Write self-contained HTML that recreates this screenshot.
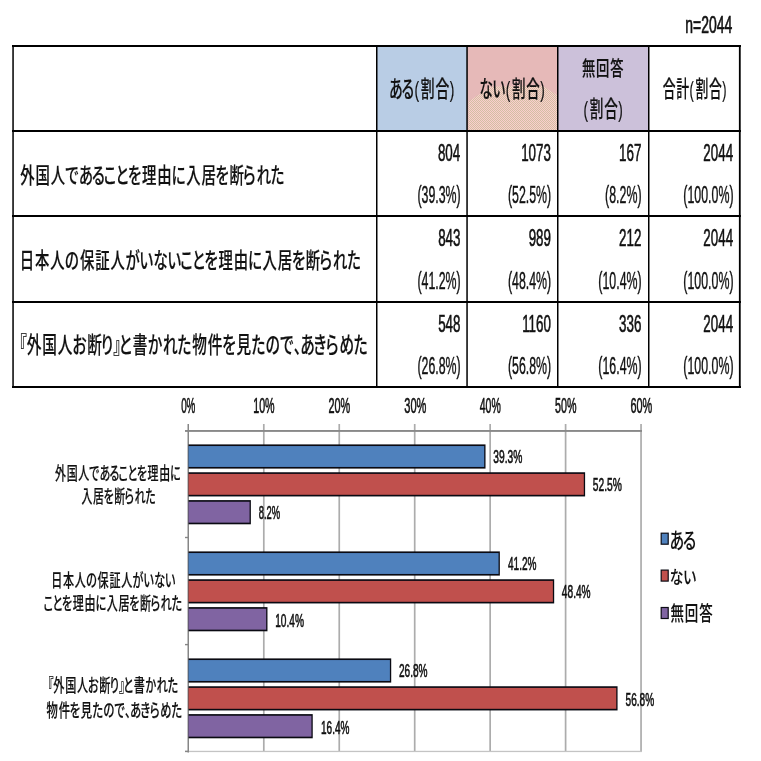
<!DOCTYPE html>
<html lang="ja"><head><meta charset="utf-8"><title>chart</title>
<style>html,body{margin:0;padding:0;background:#fff}svg{display:block}text{font-family:'Liberation Sans', 'Noto Sans CJK JP', sans-serif;}</style></head>
<body>
<svg width="761" height="761" viewBox="0 0 761 761">
<rect width="761" height="761" fill="#fff"/>
<rect x="377" y="47" width="90" height="84" fill="#B9CDE5"/>
<rect x="467" y="47" width="91" height="84" fill="#E6B9B8"/>
<rect x="558" y="47" width="91" height="84" fill="#CCC1DA"/>
<defs><pattern id="dz" x="0" y="0" width="2" height="2" patternUnits="userSpaceOnUse"><rect width="2" height="2" fill="#FACECD"/><rect x="0" y="0" width="1" height="1" fill="#D3BFA3"/><rect x="1" y="1" width="1" height="1" fill="#D3BFA3"/></pattern></defs>
<polygon points="468.5,101.5 491,86.5 543,86 557,95 557,130 468.5,130" fill="url(#dz)"/>
<rect x="12" y="45" width="729" height="2" fill="#000"/>
<rect x="12" y="130" width="729" height="2" fill="#000"/>
<rect x="12" y="215" width="729" height="2" fill="#000"/>
<rect x="12" y="301" width="729" height="2" fill="#000"/>
<rect x="12" y="386" width="729" height="2" fill="#000"/>
<rect x="12.3" y="45" width="1.5" height="343" fill="#000"/>
<rect x="738.9" y="45" width="1.8" height="343" fill="#000"/>
<rect x="376" y="45" width="1.5" height="343" fill="#000"/>
<rect x="466.3" y="45" width="1.5" height="343" fill="#000"/>
<rect x="557" y="45" width="1.5" height="343" fill="#000"/>
<rect x="648" y="45" width="1.5" height="343" fill="#000"/>
<rect x="262.95" y="424" width="1.7" height="328" fill="#acacac"/>
<rect x="338.40" y="424" width="1.7" height="328" fill="#acacac"/>
<rect x="413.85" y="424" width="1.7" height="328" fill="#acacac"/>
<rect x="489.30" y="424" width="1.7" height="328" fill="#acacac"/>
<rect x="564.75" y="424" width="1.7" height="328" fill="#acacac"/>
<rect x="640.20" y="424" width="1.7" height="328" fill="#acacac"/>
<rect x="185" y="750.8" width="457" height="1.3" fill="#c4c4c4"/>
<rect x="185" y="430" width="457" height="1.9" fill="#898989"/>
<rect x="187.5" y="424" width="1.5" height="328.5" fill="#868686"/>
<rect x="185" y="536.8" width="3.5" height="1.4" fill="#868686"/>
<rect x="185" y="643.9" width="3.5" height="1.4" fill="#868686"/>
<rect x="185" y="750.6999999999999" width="3.5" height="1.4" fill="#868686"/>
<rect x="188.50" y="444.40" width="297.02" height="24.2" fill="#0a0a12"/>
<rect x="188.50" y="446.05" width="295.72" height="20.90" fill="#4F81BD"/>
<rect x="188.50" y="472.25" width="396.61" height="24.2" fill="#0a0a12"/>
<rect x="188.50" y="473.90" width="395.31" height="20.90" fill="#C0504D"/>
<rect x="188.50" y="500.10" width="62.37" height="24.2" fill="#0a0a12"/>
<rect x="188.50" y="501.75" width="61.07" height="20.90" fill="#8064A2"/>
<rect x="188.50" y="551.40" width="311.35" height="24.2" fill="#0a0a12"/>
<rect x="188.50" y="553.05" width="310.05" height="20.90" fill="#4F81BD"/>
<rect x="188.50" y="579.25" width="365.68" height="24.2" fill="#0a0a12"/>
<rect x="188.50" y="580.90" width="364.38" height="20.90" fill="#C0504D"/>
<rect x="188.50" y="607.10" width="78.97" height="24.2" fill="#0a0a12"/>
<rect x="188.50" y="608.75" width="77.67" height="20.90" fill="#8064A2"/>
<rect x="188.50" y="658.40" width="202.71" height="24.2" fill="#0a0a12"/>
<rect x="188.50" y="660.05" width="201.41" height="20.90" fill="#4F81BD"/>
<rect x="188.50" y="686.25" width="429.06" height="24.2" fill="#0a0a12"/>
<rect x="188.50" y="687.90" width="427.76" height="20.90" fill="#C0504D"/>
<rect x="188.50" y="714.10" width="124.24" height="24.2" fill="#0a0a12"/>
<rect x="188.50" y="715.75" width="122.94" height="20.90" fill="#8064A2"/>
<rect x="661.2" y="533.2" width="7" height="11" fill="#4F81BD" stroke="#0c0c14" stroke-width="1.2"/>
<rect x="661.2" y="570.1" width="7" height="11" fill="#C0504D" stroke="#0c0c14" stroke-width="1.2"/>
<rect x="661.2" y="607.5" width="7" height="11" fill="#8064A2" stroke="#0c0c14" stroke-width="1.2"/>
<text transform="translate(685.35 33.40) scale(0.5804 1)" font-size="24.00" font-weight="400" fill="#111" stroke="#111" stroke-width="0.6" vector-effect="non-scaling-stroke">n=2044</text>
<text transform="translate(0 97.21) scale(0.6200 1)" x="627.89 647.99 668.65 678.83 702.51 725.48" y="0" font-size="22.26" font-weight="500" fill="#111" stroke="#111" stroke-width="0.2" style="font-feature-settings:'palt'">ある(割合)</text>
<text transform="translate(0 97.21) scale(0.6077 1)" x="788.87 810.46 832.28 842.46 866.14 889.11" y="0" font-size="22.26" font-weight="500" fill="#111" stroke="#111" stroke-width="0.2" style="font-feature-settings:'palt'">ない(割合)</text>
<text transform="translate(0 76.18) scale(0.6454 1)" x="901.59 923.57 945.55" y="0" font-size="20.66" font-weight="500" fill="#111" stroke="#111" stroke-width="0.2" style="font-feature-settings:'palt'">無回答</text>
<text transform="translate(0 117.26) scale(0.6108 1)" x="955.26 965.44 989.12 1012.09" y="0" font-size="22.26" font-weight="500" fill="#111" stroke="#111" stroke-width="0.2" style="font-feature-settings:'palt'">(割合)</text>
<text transform="translate(0 97.27) scale(0.5757 1)" x="1151.00 1174.74 1197.77 1207.97 1231.71 1254.74" y="0" font-size="22.31" font-weight="500" fill="#111" stroke="#111" stroke-width="0.2" style="font-feature-settings:'palt'">合計(割合)</text>
<text transform="translate(0 183.20) scale(0.6724 1)" x="30.09 52.86 75.62 97.06 117.26 136.59 154.47 172.03 190.36 211.24 234.00 255.43 276.87 299.63 320.51 341.39 361.72 381.48 402.68" y="0" font-size="21.40" font-weight="500" fill="#111" stroke="#111" stroke-width="0.2" style="font-feature-settings:'palt'">外国人であることを理由に入居を断られた</text>
<text transform="translate(0 268.03) scale(0.6633 1)" x="29.64 52.70 75.76 98.14 120.52 143.58 166.64 189.13 210.49 231.52 252.54 271.78 289.56 308.13 329.28 352.34 374.05 395.75 418.81 439.96 461.11 481.70 501.72 523.19" y="0" font-size="21.68" font-weight="500" fill="#111" stroke="#111" stroke-width="0.2" style="font-feature-settings:'palt'">日本人の保証人がいないことを理由に入居を断られた</text>
<text transform="translate(0 353.29) scale(0.6501 1)" x="29.85 41.00 64.97 88.94 111.50 134.07 155.12 174.61 183.08 204.36 227.74 250.53 272.85 295.76 319.73 341.71 363.70 386.61 408.81 430.67 451.92 462.01 482.24 501.19 521.88 544.09" y="0" font-size="22.53" font-weight="500" fill="#111" stroke="#111" stroke-width="0.2" style="font-feature-settings:'palt'">『外国人お断り』と書かれた物件を見たので、あきらめた</text>
<text transform="translate(437.90 161.00) scale(0.5577 1)" font-size="24.00" font-weight="400" fill="#111" stroke="#111" stroke-width="0.5" vector-effect="non-scaling-stroke">804</text>
<text transform="translate(417.40 203.30) scale(0.5153 1)" font-size="24.00" font-weight="400" fill="#111" stroke="#111" stroke-width="0.35" vector-effect="non-scaling-stroke">(39.3%)</text>
<text transform="translate(521.15 161.00) scale(0.5577 1)" font-size="24.00" font-weight="400" fill="#111" stroke="#111" stroke-width="0.5" vector-effect="non-scaling-stroke">1073</text>
<text transform="translate(507.90 203.30) scale(0.5153 1)" font-size="24.00" font-weight="400" fill="#111" stroke="#111" stroke-width="0.35" vector-effect="non-scaling-stroke">(52.5%)</text>
<text transform="translate(619.10 161.00) scale(0.5577 1)" font-size="24.00" font-weight="400" fill="#111" stroke="#111" stroke-width="0.5" vector-effect="non-scaling-stroke">167</text>
<text transform="translate(605.10 203.30) scale(0.5153 1)" font-size="24.00" font-weight="400" fill="#111" stroke="#111" stroke-width="0.35" vector-effect="non-scaling-stroke">(8.2%)</text>
<text transform="translate(703.35 161.00) scale(0.5577 1)" font-size="24.00" font-weight="400" fill="#111" stroke="#111" stroke-width="0.5" vector-effect="non-scaling-stroke">2044</text>
<text transform="translate(683.35 203.30) scale(0.5153 1)" font-size="24.00" font-weight="400" fill="#111" stroke="#111" stroke-width="0.35" vector-effect="non-scaling-stroke">(100.0%)</text>
<text transform="translate(438.15 246.30) scale(0.5577 1)" font-size="24.00" font-weight="400" fill="#111" stroke="#111" stroke-width="0.5" vector-effect="non-scaling-stroke">843</text>
<text transform="translate(417.40 288.60) scale(0.5153 1)" font-size="24.00" font-weight="400" fill="#111" stroke="#111" stroke-width="0.35" vector-effect="non-scaling-stroke">(41.2%)</text>
<text transform="translate(528.65 246.30) scale(0.5577 1)" font-size="24.00" font-weight="400" fill="#111" stroke="#111" stroke-width="0.5" vector-effect="non-scaling-stroke">989</text>
<text transform="translate(507.90 288.60) scale(0.5153 1)" font-size="24.00" font-weight="400" fill="#111" stroke="#111" stroke-width="0.35" vector-effect="non-scaling-stroke">(48.4%)</text>
<text transform="translate(619.10 246.30) scale(0.5577 1)" font-size="24.00" font-weight="400" fill="#111" stroke="#111" stroke-width="0.5" vector-effect="non-scaling-stroke">212</text>
<text transform="translate(598.35 288.60) scale(0.5153 1)" font-size="24.00" font-weight="400" fill="#111" stroke="#111" stroke-width="0.35" vector-effect="non-scaling-stroke">(10.4%)</text>
<text transform="translate(703.35 246.30) scale(0.5577 1)" font-size="24.00" font-weight="400" fill="#111" stroke="#111" stroke-width="0.5" vector-effect="non-scaling-stroke">2044</text>
<text transform="translate(683.35 288.60) scale(0.5153 1)" font-size="24.00" font-weight="400" fill="#111" stroke="#111" stroke-width="0.35" vector-effect="non-scaling-stroke">(100.0%)</text>
<text transform="translate(438.15 331.60) scale(0.5577 1)" font-size="24.00" font-weight="400" fill="#111" stroke="#111" stroke-width="0.5" vector-effect="non-scaling-stroke">548</text>
<text transform="translate(417.40 373.90) scale(0.5153 1)" font-size="24.00" font-weight="400" fill="#111" stroke="#111" stroke-width="0.35" vector-effect="non-scaling-stroke">(26.8%)</text>
<text transform="translate(522.15 331.60) scale(0.5577 1)" font-size="24.00" font-weight="400" fill="#111" stroke="#111" stroke-width="0.5" vector-effect="non-scaling-stroke">1160</text>
<text transform="translate(507.90 373.90) scale(0.5153 1)" font-size="24.00" font-weight="400" fill="#111" stroke="#111" stroke-width="0.35" vector-effect="non-scaling-stroke">(56.8%)</text>
<text transform="translate(619.10 331.60) scale(0.5577 1)" font-size="24.00" font-weight="400" fill="#111" stroke="#111" stroke-width="0.5" vector-effect="non-scaling-stroke">336</text>
<text transform="translate(598.35 373.90) scale(0.5153 1)" font-size="24.00" font-weight="400" fill="#111" stroke="#111" stroke-width="0.35" vector-effect="non-scaling-stroke">(16.4%)</text>
<text transform="translate(703.35 331.60) scale(0.5577 1)" font-size="24.00" font-weight="400" fill="#111" stroke="#111" stroke-width="0.5" vector-effect="non-scaling-stroke">2044</text>
<text transform="translate(683.35 373.90) scale(0.5153 1)" font-size="24.00" font-weight="400" fill="#111" stroke="#111" stroke-width="0.35" vector-effect="non-scaling-stroke">(100.0%)</text>
<text transform="translate(181.15 413.30) scale(0.4638 1)" font-size="21.20" font-weight="400" fill="#111" stroke="#111" stroke-width="0.5" vector-effect="non-scaling-stroke">0%</text>
<text transform="translate(253.20 413.30) scale(0.5054 1)" font-size="21.20" font-weight="400" fill="#111" stroke="#111" stroke-width="0.5" vector-effect="non-scaling-stroke">10%</text>
<text transform="translate(328.42 413.30) scale(0.5128 1)" font-size="21.20" font-weight="400" fill="#111" stroke="#111" stroke-width="0.5" vector-effect="non-scaling-stroke">20%</text>
<text transform="translate(404.32 413.30) scale(0.5212 1)" font-size="21.20" font-weight="400" fill="#111" stroke="#111" stroke-width="0.5" vector-effect="non-scaling-stroke">30%</text>
<text transform="translate(479.78 413.30) scale(0.4959 1)" font-size="21.20" font-weight="400" fill="#111" stroke="#111" stroke-width="0.5" vector-effect="non-scaling-stroke">40%</text>
<text transform="translate(555.10 413.30) scale(0.5055 1)" font-size="21.20" font-weight="400" fill="#111" stroke="#111" stroke-width="0.5" vector-effect="non-scaling-stroke">50%</text>
<text transform="translate(630.40 413.30) scale(0.5128 1)" font-size="21.20" font-weight="400" fill="#111" stroke="#111" stroke-width="0.5" vector-effect="non-scaling-stroke">60%</text>
<text transform="translate(0 479.90) scale(0.6167 1)" x="89.19 108.06 126.94 144.71 161.46 177.48 192.31 206.86 222.06 239.37 258.24 276.01" y="0" font-size="17.74" font-weight="500" fill="#111" stroke="#111" stroke-width="0.2" style="font-feature-settings:'palt'">外国人であることを理由に</text>
<text transform="translate(0 503.11) scale(0.5931 1)" x="137.40 156.90 174.79 192.68 210.09 227.03 245.19" y="0" font-size="18.33" font-weight="500" fill="#111" stroke="#111" stroke-width="0.2" style="font-feature-settings:'palt'">入居を断られた</text>
<text transform="translate(0 586.55) scale(0.6245 1)" x="82.12 100.95 119.78 138.06 156.33 175.16 194.00 212.36 229.81 246.98 264.15" y="0" font-size="17.70" font-weight="500" fill="#111" stroke="#111" stroke-width="0.2" style="font-feature-settings:'palt'">日本人の保証人がいない</text>
<text transform="translate(0 609.64) scale(0.6114 1)" x="71.12 85.95 101.42 119.06 138.28 156.38 174.48 193.70 211.34 228.97 246.13 262.83 280.73" y="0" font-size="18.07" font-weight="500" fill="#111" stroke="#111" stroke-width="0.2" style="font-feature-settings:'palt'">ことを理由に入居を断られた</text>
<text transform="translate(0 692.43) scale(0.6164 1)" x="77.61 86.52 105.68 124.85 142.89 160.93 177.76 193.35 200.11 217.13 235.82 254.04 271.89" y="0" font-size="18.01" font-weight="500" fill="#111" stroke="#111" stroke-width="0.2" style="font-feature-settings:'palt'">『外国人お断り』と書かれた</text>
<text transform="translate(0 716.69) scale(0.6266 1)" x="74.39 93.61 111.25 128.88 147.26 165.07 182.60 199.64 207.74 223.96 239.16 255.76 273.57" y="0" font-size="18.07" font-weight="500" fill="#111" stroke="#111" stroke-width="0.2" style="font-feature-settings:'palt'">物件を見たので、あきらめた</text>
<text transform="translate(0 547.78) scale(0.6929 1)" x="966.58 985.81" y="0" font-size="21.30" font-weight="500" fill="#111" stroke="#111" stroke-width="0.12" style="font-feature-settings:'palt'">ある</text>
<text transform="translate(0 584.46) scale(0.7341 1)" x="912.38 930.56" y="0" font-size="18.74" font-weight="500" fill="#111" stroke="#111" stroke-width="0.12" style="font-feature-settings:'palt'">ない</text>
<text transform="translate(0 621.45) scale(0.6560 1)" x="1022.05 1043.91 1065.76" y="0" font-size="20.54" font-weight="500" fill="#111" stroke="#111" stroke-width="0.12" style="font-feature-settings:'palt'">無回答</text>
<text transform="translate(493.25 463.20) scale(0.5563 1)" font-size="18.40" font-weight="400" fill="#111" stroke="#111" stroke-width="0.5" vector-effect="non-scaling-stroke">39.3%</text>
<text transform="translate(592.75 491.30) scale(0.5573 1)" font-size="18.40" font-weight="400" fill="#111" stroke="#111" stroke-width="0.5" vector-effect="non-scaling-stroke">52.5%</text>
<text transform="translate(258.70 519.40) scale(0.5103 1)" font-size="18.40" font-weight="400" fill="#111" stroke="#111" stroke-width="0.5" vector-effect="non-scaling-stroke">8.2%</text>
<text transform="translate(508.00 570.30) scale(0.5457 1)" font-size="18.40" font-weight="400" fill="#111" stroke="#111" stroke-width="0.5" vector-effect="non-scaling-stroke">41.2%</text>
<text transform="translate(561.85 598.40) scale(0.5515 1)" font-size="18.40" font-weight="400" fill="#111" stroke="#111" stroke-width="0.5" vector-effect="non-scaling-stroke">48.4%</text>
<text transform="translate(275.20 626.50) scale(0.5525 1)" font-size="18.40" font-weight="400" fill="#111" stroke="#111" stroke-width="0.5" vector-effect="non-scaling-stroke">10.4%</text>
<text transform="translate(398.95 677.40) scale(0.5476 1)" font-size="18.40" font-weight="400" fill="#111" stroke="#111" stroke-width="0.5" vector-effect="non-scaling-stroke">26.8%</text>
<text transform="translate(625.55 705.50) scale(0.5476 1)" font-size="18.40" font-weight="400" fill="#111" stroke="#111" stroke-width="0.5" vector-effect="non-scaling-stroke">56.8%</text>
<text transform="translate(321.00 733.60) scale(0.5446 1)" font-size="18.40" font-weight="400" fill="#111" stroke="#111" stroke-width="0.5" vector-effect="non-scaling-stroke">16.4%</text>
</svg>
</body></html>
